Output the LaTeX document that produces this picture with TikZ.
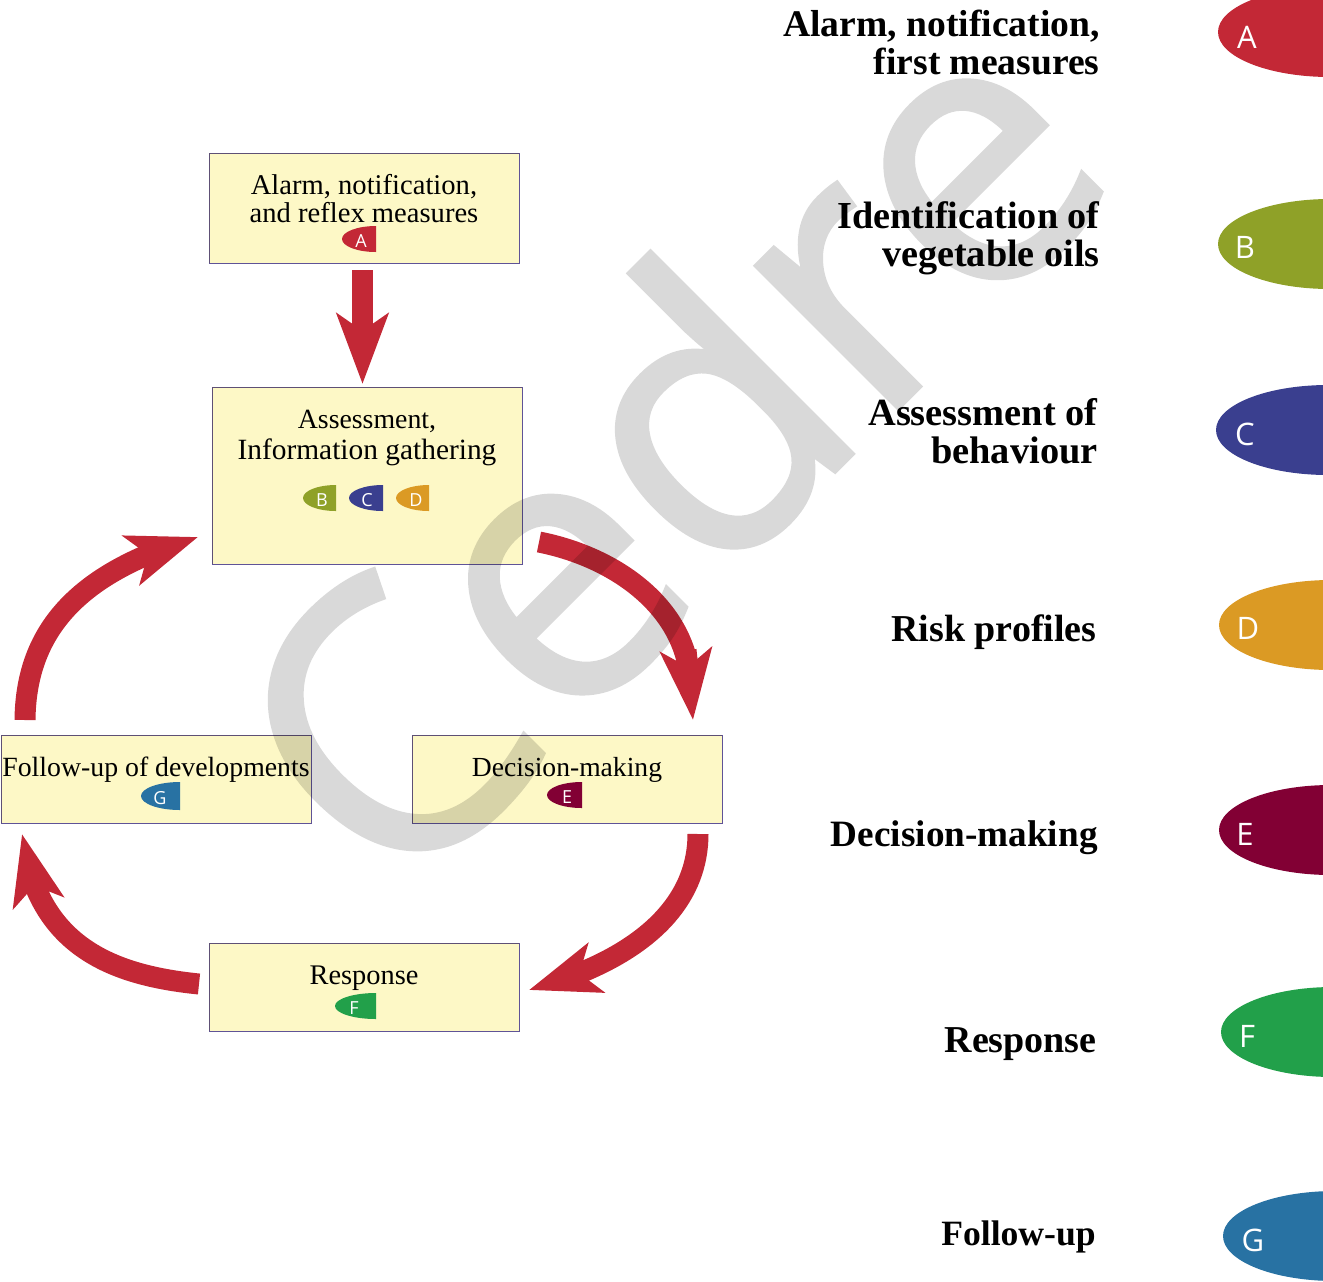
\documentclass[tikz,border=0pt]{standalone}
\usepackage{fontspec}
\usepackage{tikz}
\usetikzlibrary{arrows.meta,bending}
\setmainfont{Liberation Serif}
\newfontfamily\tagfont{Open Sans}
\newfontfamily\markfont[FakeBold=1.2]{Open Sans}
\definecolor{tagA}{HTML}{C32836}
\definecolor{tagB}{HTML}{8FA128}
\definecolor{tagC}{HTML}{3A3F8F}
\definecolor{tagD}{HTML}{DB9A24}
\definecolor{tagE}{HTML}{820034}
\definecolor{tagF}{HTML}{22A04A}
\definecolor{tagG}{HTML}{2872A3}
\definecolor{boxfill}{HTML}{FDF8C6}
\definecolor{boxline}{HTML}{5F5397}
\tikzset{
	stagebox/.style={draw=boxline,fill=boxfill,line width=.5pt,minimum width=155pt,inner sep=0pt},
	stagetext/.style={align=center,inner sep=0pt,font=\fontsize{#1}{14}\selectfont},
	sidetext/.style={anchor=east,align=right,inner sep=0pt,font=\fontsize{#1}{19}\selectfont\bfseries},
	bigarrow/.style={draw=tagA,line width=10.5pt,-{Stealth[length=35pt,width=25.5pt,inset=8.5pt]}}
}
\begin{document}
\begin{tikzpicture}[x=.5pt,y=-.5pt]
		\clip (0,0) rectangle (1323,1281);
		% watermark
		\node[rotate=45,text=black!15,font=\markfont\fontsize{188}{188}\selectfont] (mark) at (662,445) {Cedre};
		% boxes
		\begin{scope}[blend mode=multiply]
		\node[stagebox,minimum height=55pt] (alarm) at (364,208) {};
		\node[stagebox,minimum height=88.5pt] (assess) at (367,475.5) {};
		\node[stagebox,minimum height=44pt] (follow) at (156,779) {};
		\node[stagebox,minimum height=44pt] (decide) at (567,779) {};
		\node[stagebox,minimum height=44pt] (respond) at (364,987) {};
		\end{scope}
		\node[stagetext=14.3] (alarmtext) at (364,198.5) {Alarm, notification,\\[0pt]and reflex measures};
		\node[stagetext=14.7] (assesstext) at (367,437.5) {{\fontsize{13.9}{14}\selectfont Assessment,}\\[1.5pt]Information gathering};
		\node[stagetext=13.9] (followtext) at (156,770) {Follow-up of developments};
		\node[stagetext=13.8] (decidetext) at (567,770) {Decision-making};
		\node[stagetext=14.2] (respondtext) at (364,978) {Response};
		% small tags
		\foreach \n/\r/\y/\rx/\ry/\tx in {A/376/239/34/13/361, B/336/498/33/13/322, C/383/498/34/13/367, D/429/498/33/13/416, E/582/795/35/13/567, F/376/1006/41/13/354, G/180/796/39/14/160}{
			\fill[tag\n] (\r,\y-\ry) arc[start angle=270,end angle=90,x radius=\rx,y radius=\ry] -- cycle;
			\node[text=white,inner sep=0pt,font=\tagfont\fontsize{9}{9}\selectfont] (small\n) at (\tx,\y+2) {\n};
		}
		% big tags
		\foreach \n/\l/\y/\tx/\ty in {A/1218/32/1247/37, B/1218/244/1245/247, C/1216/430/1245/434, D/1219/625/1248/628, E/1219/830/1245/834, F/1221/1032/1247/1036, G/1223/1236/1253/1240}{
			\fill[tag\n] (\l+112,\y-45) arc[start angle=270,end angle=90,x radius=112,y radius=45] -- cycle;
			\node[text=white,inner sep=0pt,font=\tagfont\fontsize{15.5}{15.5}\selectfont] (big\n) at (\tx,\ty) {\n};
		}
		% side labels
		\node[sidetext=18.8] (sideA) at (1100,42) {Alarm, notification,\\first measures};
		\node[sidetext=19.1] (sideB) at (1100,238.5) {Identification of\\vegetable oils};
		\node[sidetext=19.2] (sideC) at (1098,431.5) {Assessment of\\behaviour};
		\node[sidetext=19] (sideD) at (1097,632) {Risk profiles};
		\node[sidetext=18.6] (sideE) at (1098,838) {Decision-making};
		\node[sidetext=19] (sideF) at (1097,1044) {Response};
		\node[sidetext=17.8] (sideG) at (1096,1237) {Follow-up};
		% arrows
		\coordinate (alarmout) at (362.5,270);
		\coordinate (assessin) at (362.5,384);
		\coordinate (assessout) at (539,542);
		\coordinate (decidebend) at (686,650);
		\coordinate (decidemid) at (688,665);
		\coordinate (decidein) at (693,720);
		\coordinate (decideout) at (698,834);
		\coordinate (respondin) at (529,990);
		\coordinate (respondout) at (199,984);
		\coordinate (followin) at (22,834);
		\coordinate (followout) at (25,720);
		\coordinate (assessback) at (198,537);
		\draw[bigarrow] (alarmout) -- (assessin);
		\begin{scope}[blend mode=multiply]
		\draw[draw=tagA,line width=10.5pt] (assessout) .. controls (610,556) and (675,600) .. (decidemid);
		\end{scope}
		\draw[bigarrow] (decidebend) -- (decidein);
		\draw[bigarrow] (decideout) .. controls (698,905) and (640,960) .. (respondin);
		\draw[bigarrow] (respondout) .. controls (110,975) and (36,945) .. (followin);
		\draw[bigarrow] (followout) .. controls (26,625) and (85,570) .. (assessback);
		\end{tikzpicture}
\end{document}
